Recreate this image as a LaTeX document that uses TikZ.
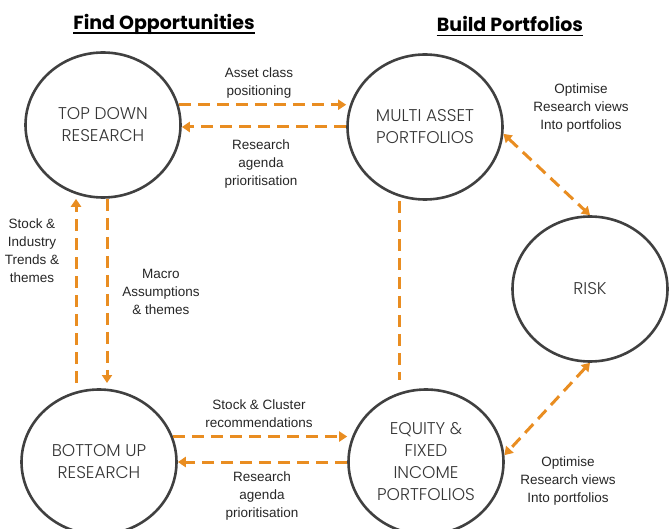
\documentclass[tikz,border=0pt]{standalone}
\usepackage{fontspec}
\setmainfont{Liberation Sans}
\newfontfamily\gothic{Poppins}[UprightFont=* Light, BoldFont=* Bold]
\usepackage{tikz}
\usetikzlibrary{shapes.geometric,arrows.meta,positioning,calc}
\definecolor{floworange}{RGB}{233,141,33}
\definecolor{ringgray}{RGB}{64,64,64}

\tikzset{
  stage/.style={ellipse,draw=ringgray,line width=2.6pt,minimum width=155pt,minimum height=145pt,
    inner sep=0pt,align=center,text=ringgray!85!black,font=\gothic\fontsize{17}{22}\selectfont},
  note/.style={align=center,inner sep=0pt,text=black!85,font=\fontsize{13.5}{18}\selectfont},
  heading/.style={inner sep=0pt,font=\gothic\bfseries\fontsize{19}{24}\selectfont},
  dashline/.style={draw=floworange,line width=3pt,dash pattern=on 12pt off 7pt},
  flow/.style={dashline,-{Triangle[width=10pt,length=8pt]}},
  twoway/.style={dashline,{Triangle[width=10pt,length=8pt]}-{Triangle[width=10pt,length=8pt]}}
}

\begin{document}
\begin{tikzpicture}[x=1pt,y=-1pt]
    \useasboundingbox (0,0) rectangle (669,529);

    % Headings
    \node[heading] (findhead) at (164,24) {Find Opportunities};
    \node[heading] (buildhead) at (510,24) {Build Portfolios};
    \foreach \h in {findhead,buildhead} {
        \draw[line width=1.8pt] ([yshift=-4pt]\h.base west) -- ([yshift=-4pt]\h.base east);
    }

    % Stages
    \node[stage] (topdown) at (103,125) {TOP DOWN\\RESEARCH};
    \node[stage] (multi) at (425,127) {MULTI ASSET\\PORTFOLIOS};
    \node[stage] (risk) at (590,289) {RISK};
    \node[stage] (bottomup) at (99,462) {BOTTOM UP\\RESEARCH};
    \node[stage] (equity) at (426,462) {EQUITY \&\\FIXED\\INCOME\\PORTFOLIOS};

    % Research <-> portfolios
    \draw[flow] (topdown.15) -- (topdown.15 -| multi.west);
    \draw[flow] (multi.west) -- (multi.west -| topdown.east);
    \draw[flow] (bottomup.19) -- (bottomup.19 -| equity.west);
    \draw[flow] (equity.west) -- (equity.west -| bottomup.east);

    % Top down <-> bottom up
    \coordinate (upend) at (76,383);
    \coordinate (downend) at (107,383);
    \draw[flow] (upend) -- (upend |- topdown.south);
    \draw[flow] (downend |- topdown.south) -- (downend);

    % Portfolios and risk
    \coordinate (linkend) at (399,380);
    \draw[dashline] (linkend |- multi.south) -- (linkend);
    \draw[twoway] (multi.-5) -- (risk.north);
    \draw[twoway] (risk.south) -- (equity.5);

    % Labels
    \node[note] (assetlbl) at (259,83) {Asset class\\positioning};
    \node[note] (agendatop) at (261,164) {Research\\agenda\\prioritisation};
    \node[note] (stocklbl) at (32,251) {Stock \&\\Industry\\Trends \&\\themes};
    \node[note] (macrolbl) at (161,292) {Macro\\Assumptions\\\& themes};
    \node[note] (clusterlbl) at (259,414) {Stock \& Cluster\\recommendations};
    \node[note] (agendabot) at (262,496) {Research\\agenda\\prioritisation};
    \node[note] (optimtop) at (581,108) {Optimise\\Research views\\Into portfolios};
    \node[note] (optimbot) at (568,481) {Optimise\\Research views\\Into portfolios};
\end{tikzpicture}
\end{document}
